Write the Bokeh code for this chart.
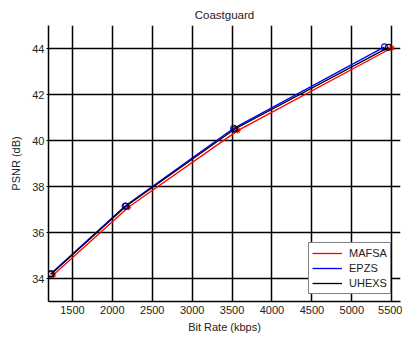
from bokeh.plotting import figure
from bokeh.models import FixedTicker, Legend, LegendItem, Range1d
from bokeh.embed import file_html
from bokeh.resources import INLINE

title_text = "Coastguard"
x_label = "Bit Rate (kbps)"
y_label = "PSNR (dB)"
x_ticks = [1500, 2000, 2500, 3000, 3500, 4000, 4500, 5000, 5500]
y_ticks = [34, 36, 38, 40, 42, 44]

series_names = ["MAFSA", "EPZS", "UHEXS"]
bitrate_mafsa = [1260, 2200, 3570, 5500]
psnr_mafsa = [34.15, 37.10, 40.43, 44.02]
bitrate_epzs = [1225, 2160, 3520, 5410]
psnr_epzs = [34.20, 37.15, 40.53, 44.07]
bitrate_uhexs = [1235, 2170, 3535, 5460]
psnr_uhexs = [34.20, 37.14, 40.50, 44.05]

FONT = "Liberation Sans"

p = figure(width=402, height=338, output_backend="svg", toolbar_location=None,
           x_range=Range1d(1200, 5610), y_range=Range1d(33, 45),
           min_border_left=48, min_border_right=2, min_border_top=25, min_border_bottom=37)
p.title.text = title_text
p.title.align = "center"
p.title.text_font = FONT
p.title.text_font_size = "11.5px"
p.title.text_font_style = "normal"
p.title.text_color = "#222222"
p.outline_line_color = None
p.background_fill_color = "white"
p.border_fill_color = "white"

p.xaxis.ticker = FixedTicker(ticks=x_ticks)
p.yaxis.ticker = FixedTicker(ticks=y_ticks)
for ax in (p.xaxis, p.yaxis):
    ax.major_label_text_font = FONT
    ax.major_label_text_font_size = "11px"
    ax.major_label_text_color = "#222222"
    ax.axis_label_text_font = FONT
    ax.axis_label_text_font_size = "11px"
    ax.axis_label_text_font_style = "normal"
    ax.axis_label_text_color = "#222222"
    ax.axis_line_color = "black"
    ax.axis_line_width = 1.5
    ax.minor_tick_line_color = None
    ax.major_tick_line_color = "black"
p.xaxis.axis_label = x_label
p.yaxis.axis_label = y_label
p.xaxis.major_tick_out = 0
p.xaxis.major_tick_in = 3
p.yaxis.major_tick_out = 2
p.yaxis.major_tick_in = 0
p.xaxis.major_label_standoff = 4
p.yaxis.major_label_standoff = 2
p.xaxis.axis_label_standoff = 4
p.yaxis.axis_label_standoff = 7

p.xgrid.grid_line_color = "black"
p.ygrid.grid_line_color = "black"
p.xgrid.grid_line_width = 1.5
p.ygrid.grid_line_width = 1.5
p.xgrid.grid_line_alpha = 1.0
p.ygrid.grid_line_alpha = 1.0

r1 = p.line(bitrate_mafsa, psnr_mafsa, line_color="#ff0000", line_width=1.3)
p.scatter(bitrate_mafsa, psnr_mafsa, marker="asterisk", size=6, line_color="#ff0000", line_width=1.1)
r2 = p.line(bitrate_epzs, psnr_epzs, line_color="#0000ff", line_width=1.3)
p.scatter(bitrate_epzs, psnr_epzs, marker="circle", size=6, line_color="#0000ff", fill_color=None, line_width=1.1)
r3 = p.line(bitrate_uhexs, psnr_uhexs, line_color="black", line_width=1.3)
p.scatter(bitrate_uhexs, psnr_uhexs, marker="circle", size=6, line_color="black", fill_color=None, line_width=1.1)

legend = Legend(items=[LegendItem(label=series_names[0], renderers=[r1]),
                       LegendItem(label=series_names[1], renderers=[r2]),
                       LegendItem(label=series_names[2], renderers=[r3])],
                location=(260, 7))
legend.label_text_font = FONT
legend.label_text_font_size = "11px"
legend.label_text_color = "#222222"
legend.glyph_width = 30
legend.glyph_height = 14
legend.label_height = 14
legend.label_standoff = 7
legend.spacing = 1
legend.padding = 3
legend.margin = 0
legend.border_line_color = "black"
legend.border_line_width = 1.5
legend.background_fill_color = "white"
legend.background_fill_alpha = 1.0
p.add_layout(legend, "center")

open("out.html", "w").write(file_html(p, INLINE))
